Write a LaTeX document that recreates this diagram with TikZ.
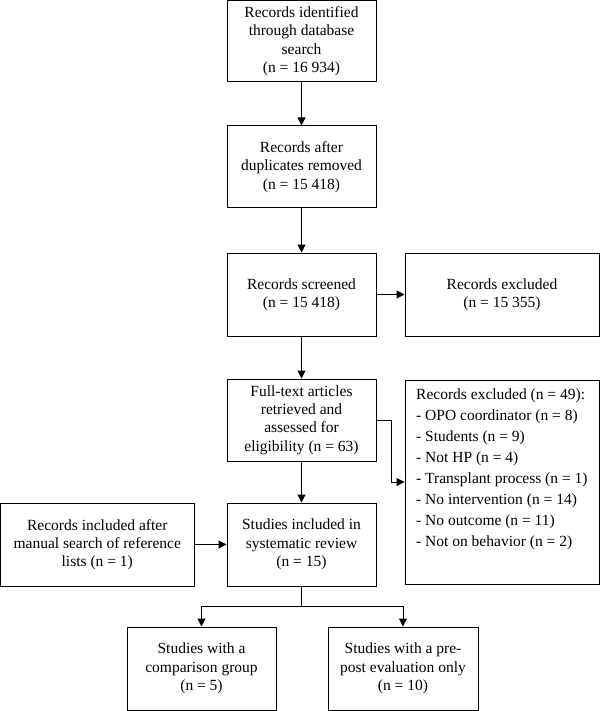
\documentclass[tikz,border=0pt]{standalone}
\usepackage{fontspec}
\setmainfont{Liberation Serif}
\usetikzlibrary{arrows.meta}
\begin{document}
\begin{tikzpicture}[x=1pt,y=-1pt,
  box/.style={draw, line width=1pt, align=center, inner sep=0pt, font=\fontsize{15.5}{18.3}\selectfont},
  listtext/.style={align=left, inner sep=0pt, anchor=north west, font=\fontsize{15.5}{21}\selectfont},
  arr/.style={-{Triangle[length=8pt,width=8pt]}, line width=1pt},
  ln/.style={line width=1pt}]
\useasboundingbox (0,0) rectangle (600,711);
\node[box, minimum width=149pt, minimum height=81.5pt] (b1) at (301.5,41.25) {Records identified\\through database\\search\\(n = 16 934)};
\node[box, minimum width=149pt, minimum height=82pt] (b2) at (301.5,167) {Records after\\duplicates removed\\(n = 15 418)};
\node[box, minimum width=149pt, minimum height=83pt] (b3) at (301.5,294.5) {Records screened\\(n = 15 418)};
\node[box, minimum width=194pt, minimum height=83pt] (ex1) at (502,294.5) {Records excluded\\(n = 15 355)};
\node[box, minimum width=149pt, minimum height=82pt] (b4) at (301.5,420) {Full-text articles\\retrieved and\\assessed for\\eligibility (n = 63)};
\node[box, minimum width=194pt, minimum height=204pt] (ex2) at (502,482) {};
\node[listtext] (ex2t) at (416,388.5) {Records excluded (n = 49):\\- OPO coordinator (n = 8)\\- Students (n = 9)\\- Not HP (n = 4)\\- Transplant process (n = 1)\\- No intervention (n = 14)\\- No outcome (n = 11)\\- Not on behavior (n = 2)};
\node[box, minimum width=193.5pt, minimum height=83pt] (lf) at (97.25,544.5) {Records included after\\manual search of reference\\lists (n = 1)};
\node[box, minimum width=149pt, minimum height=83pt] (b5) at (301.5,544.5) {Studies included in\\systematic review\\(n = 15)};
\node[box, minimum width=149pt, minimum height=83pt] (c1) at (201.5,668.5) {Studies with a\\comparison group\\(n = 5)};
\node[box, minimum width=150pt, minimum height=83pt] (c2) at (403,668.5) {Studies with a pre-\\post evaluation only\\(n = 10)};
\coordinate (k) at (391,420);
\coordinate (s) at (301.5,606);
\draw[arr] (b1) -- (b2);
\draw[arr] (b2) -- (b3);
\draw[arr] (b3) -- (ex1);
\draw[arr] (b3) -- (b4);
\draw[arr] (b4.east) -- (k) |- (ex2.west);
\draw[arr] (b4) -- (b5);
\draw[arr] (lf) -- (b5);
\draw[ln] (b5.south) -- (s);
\draw[arr] (s) -| (c1.north);
\draw[arr] (s) -| (c2.north);
\end{tikzpicture}
\end{document}
